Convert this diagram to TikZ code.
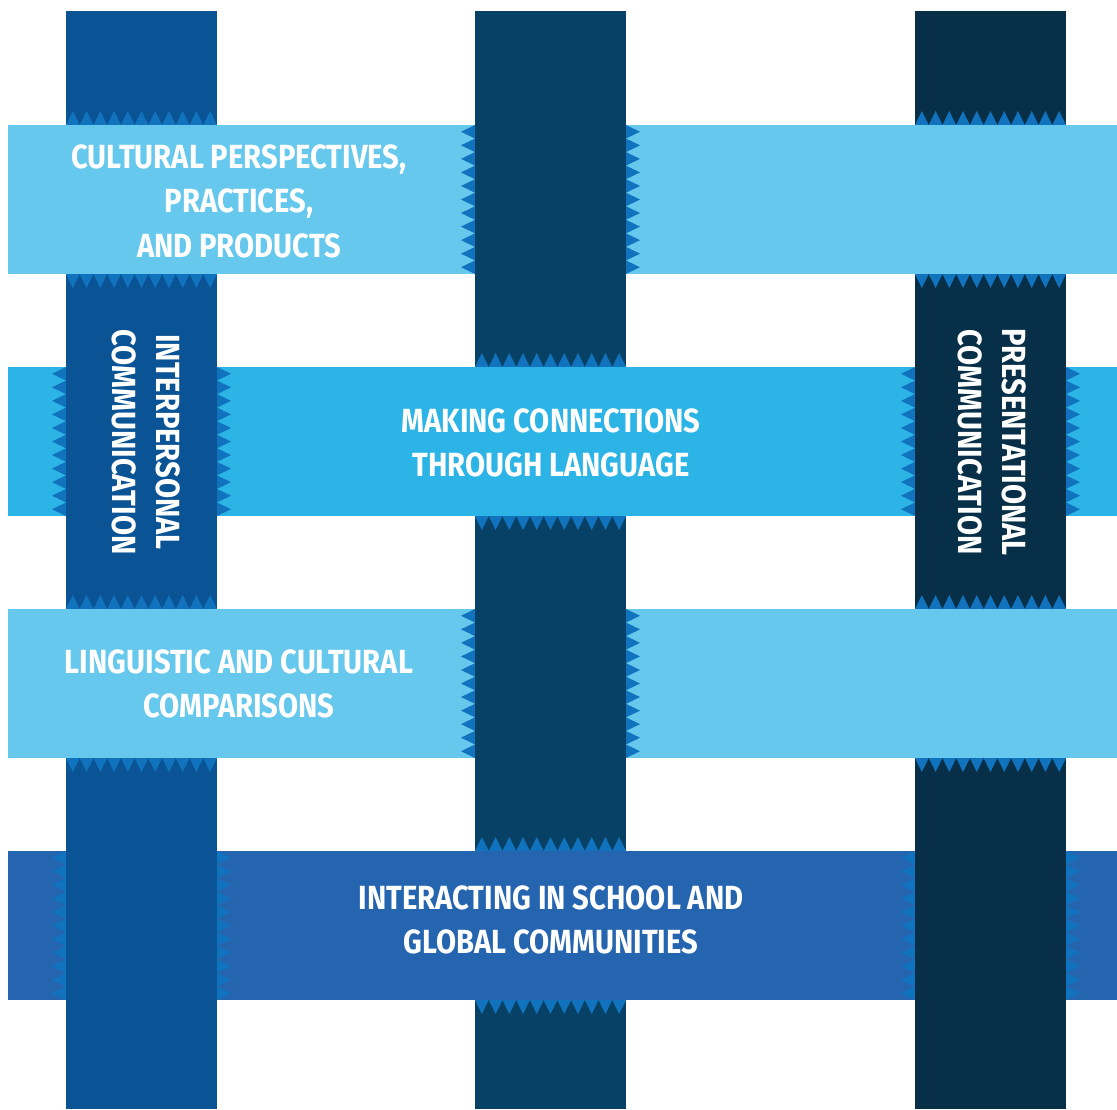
\documentclass[tikz,border=0pt]{standalone}
\usepackage{fontspec}
\setmainfont{Fira Sans}[FakeStretch=0.87]
\usetikzlibrary{positioning}

\definecolor{leftblue}{HTML}{0A5394}
\definecolor{midblue}{HTML}{074266}
\definecolor{rightblue}{HTML}{072F47}
\definecolor{paleband}{HTML}{66C8EC}
\definecolor{skyband}{HTML}{2CB4E6}
\definecolor{royalband}{HTML}{2565B0}
\definecolor{toothblue}{HTML}{1173BE}

\begin{document}
\begin{tikzpicture}[x=1pt,y=-1pt]
	\tikzset	{
		tooth/.style={fill=toothblue},
		lbl/.style={text=white, align=center, inner sep=0pt,
			font=\bfseries\fontsize{33.5}{44.5}\selectfont},
		teethup/.pic={
			code={
				\foreach \i in {0,...,10} {
					\fill[tooth]	({\i*151/11},0) -- ({(\i+0.5)*151/11},-14) -- ({(\i+1)*151/11},0) -- cycle;
				}
			}
		},
		teethleft/.pic={
			code={
				\foreach \i in {0,...,10} {
					\fill[tooth]	(0,{\i*149/11}) -- (-14,{(\i+0.5)*149/11}) -- (0,{(\i+1)*149/11}) -- cycle;
				}
			}
		},
	}
	\useasboundingbox (0,0) rectangle (1117,1109);

	% middle strip, under bands 1 and 3
	\fill[midblue]		(475,11) rectangle (626,1109);
	\foreach \y/\yy in {367/516, 851/1000} {
		\pic[] at (475,\y) {teethup};
		\pic[yscale=-1] at (475,\yy) {teethup};
	}

	% bands 2 and 4
	\fill[skyband]		(8,367) rectangle (1117,516);
	\fill[royalband]	(8,851) rectangle (1117,1000);
	\foreach \y in {367, 851} {
		\foreach \xl/\xr in {66/217, 915/1066} {
			\pic[] at (\xl,\y) {teethleft};
			\pic[xscale=-1] at (\xr,\y) {teethleft};
		}
	}

	% outer strips
	\fill[leftblue]		(66,11) rectangle (217,1109);
	\fill[rightblue]	(915,11) rectangle (1066,1109);
	\foreach \x in {66, 915} {
		\foreach \y/\yy in {125/274, 609/758} {
			\pic[] at (\x,\y) {teethup};
			\pic[yscale=-1] at (\x,\yy) {teethup};
		}
	}

	% bands 1 and 3
	\fill[paleband]		(8,125) rectangle (1117,274);
	\fill[paleband]		(8,609) rectangle (1117,758);
	\foreach \y in {125, 609} {
		\pic[] at (475,\y) {teethleft};
		\pic[xscale=-1] at (626,\y) {teethleft};
		\fill[midblue]	(475,\y) rectangle (626,{\y+149});
	}

	% labels
	\node[lbl] (cultures)	at (239,201)	{CULTURAL PERSPECTIVES,\\PRACTICES,\\AND PRODUCTS};
	\node[lbl] (connections)	at (551,443)	{MAKING CONNECTIONS\\THROUGH LANGUAGE};
	\node[lbl] (comparisons)	at (239,684)	{LINGUISTIC AND CULTURAL\\COMPARISONS};
	\node[lbl] (communities)	at (551,920)	{INTERACTING IN SCHOOL AND\\GLOBAL COMMUNITIES};
	\node[lbl, rotate=-90] (interpersonal)	at (146,442)	{INTERPERSONAL\\COMMUNICATION};
	\node[lbl, rotate=-90] (presentational)	at (992,442)	{PRESENTATIONAL\\COMMUNICATION};
\end{tikzpicture}
\end{document}
